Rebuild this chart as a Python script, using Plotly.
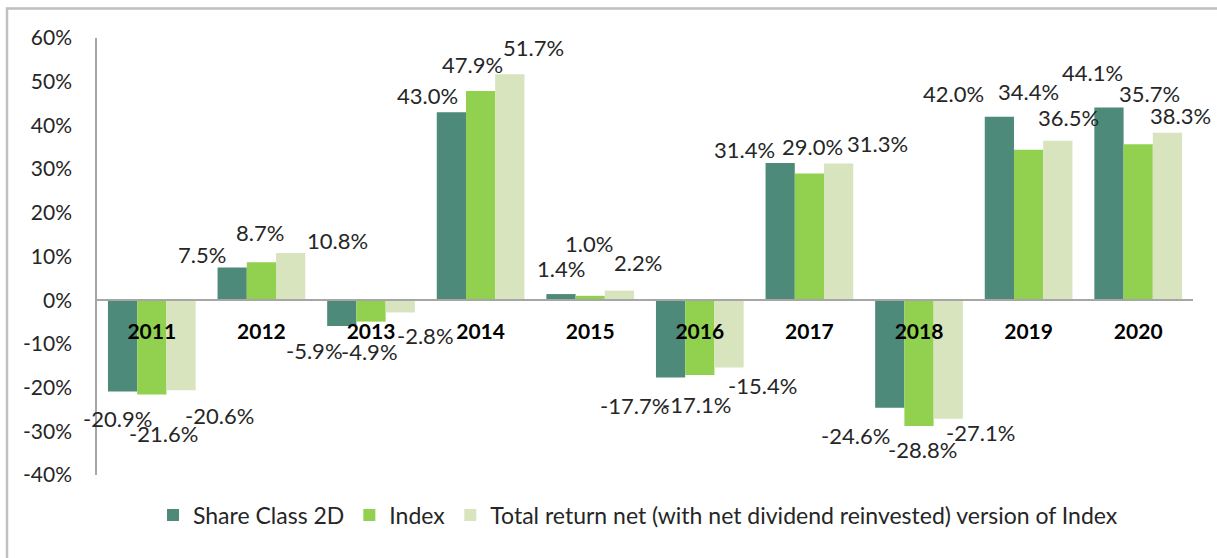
import plotly.graph_objects as go

years = ["2011", "2012", "2013", "2014", "2015", "2016", "2017", "2018", "2019", "2020"]
share_class_2d = [-20.9, 7.5, -5.9, 43.0, 1.4, -17.7, 31.4, -24.6, 42.0, 44.1]
index_ret = [-21.6, 8.7, -4.9, 47.9, 1.0, -17.1, 29.0, -28.8, 34.4, 35.7]
total_return_net = [-20.6, 10.8, -2.8, 51.7, 2.2, -15.4, 31.3, -27.1, 36.5, 38.3]

series_names = ["Share Class 2D", "Index",
                "Total return net (with net dividend reinvested) version of Index"]
series_values = [share_class_2d, index_ret, total_return_net]
colors = ["#4E8A7A", "#92D050", "#D7E4BD"]

# label offsets (pixels) relative to bar end, mimicking the hand-placed labels
label_dx = [
    [-5, -30, -27, -24, 0, -36, -36, -34, -46, -16],
    [12, -1, -2, -8, -1, -3, 3, 3, 0, 11],
    [38, 47, 25, 24, 19, 33, 39, 32, 11, 13],
]
label_dy = [
    [27, -13, 25, -17, -26, 28, -13, 28, -23, -35],
    [39, -30, 30, -26, -52, 30, -27, 23, -58, -51],
    [25, -13, 23, -27, -28, 18, -20, 14, -23, -17],
]

W, H = 1217, 558
L, R, T, B = 97, 24, 37.5, 83
plot_w = W - L - R
plot_h = H - T - B
ymin, ymax = -40, 60
cat_w = plot_w / len(years)
bar_w = cat_w * 0.8 / 3

FONT = "Lato"
TXT = "#262626"

fig = go.Figure()
for name, vals, col in zip(series_names, series_values, colors):
    fig.add_trace(go.Bar(name=name, x=years, y=vals, marker=dict(color=col, line=dict(width=0))))

annotations = []
for k, vals in enumerate(series_values):
    for i, v in enumerate(vals):
        annotations.append(dict(
            x=i, y=v, xref="x", yref="y",
            text=f"{v:.1f}%", showarrow=False,
            xshift=(k - 1) * bar_w + label_dx[k][i],
            yshift=-label_dy[k][i],
            font=dict(family=FONT, size=22, color=TXT),
            xanchor="center", yanchor="middle",
        ))

zero_pos = (0 - ymin) / (ymax - ymin)

fig.update_layout(
    width=W, height=H,
    margin=dict(l=L, r=R, t=T, b=B, pad=0),
    paper_bgcolor="white", plot_bgcolor="white",
    barmode="group", bargap=0.2, bargroupgap=0,
    font=dict(family=FONT, size=21, color=TXT),
    showlegend=True,
    legend=dict(
        orientation="h", x=(638 - L) / plot_w, xanchor="center",
        y=-(515 - (H - B)) / plot_h, yanchor="middle",
        font=dict(family=FONT, size=23, color=TXT),
        itemwidth=30, traceorder="normal",
        bgcolor="rgba(0,0,0,0)",
    ),
    xaxis=dict(
        type="category", anchor="free", position=zero_pos,
        range=[-0.5, len(years) - 0.5], autorange=False,
        showline=True, linecolor="#A6A6A6", linewidth=1.5,
        showgrid=False, zeroline=False,
        ticks="", ticklabelstandoff=13,
        tickfont=dict(family=FONT, size=21, color="#000000", weight="bold"),
    ),
    yaxis=dict(
        range=[ymin, ymax], tickvals=list(range(-40, 61, 10)),
        ticktext=[f"{t}%" for t in range(-40, 61, 10)],
        showline=True, linecolor="#A6A6A6", linewidth=1.5,
        showgrid=False, zeroline=False, ticks="", ticklabelstandoff=19,
        tickfont=dict(family=FONT, size=21, color=TXT),
    ),
    annotations=annotations,
    shapes=[dict(
        type="rect", xref="paper", yref="paper",
        x0=(7 - L) / plot_w, x1=(W + 10 - L) / plot_w,
        y0=-(H + 10 - (H - B)) / plot_h, y1=((H - B) - 8) / plot_h,
        line=dict(color="#BFBFBF", width=2.5), fillcolor="rgba(0,0,0,0)", layer="below",
    )],
)

fig.write_html("out.html", config={"displayModeBar": False},
               post_script="document.body.style.margin='0';")
